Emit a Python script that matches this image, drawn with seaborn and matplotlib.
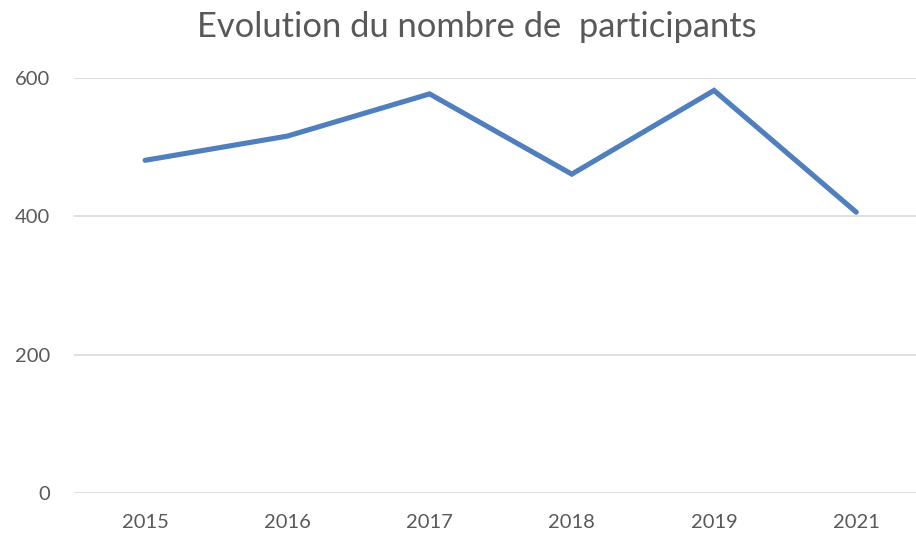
import matplotlib
matplotlib.use("Agg")
import matplotlib.pyplot as plt
import seaborn as sns
import pandas as pd

# values
years = ["2015", "2016", "2017", "2018", "2019", "2021"]
participants = [481, 516, 577, 461, 582, 406]
y_ticks = [0, 200, 400, 600]

df = pd.DataFrame({"Année": years, "Participants": participants})

sns.set_style("white")
plt.rcParams["font.family"] = ["Lato", "DejaVu Sans"]

W, H = 916, 534
fig = plt.figure(figsize=(W / 100, H / 100), dpi=100)
ax = fig.add_axes([74 / W, (H - 493) / H, (W - 74) / W, 415 / H])

sns.lineplot(data=df, x="Année", y="Participants", sort=False,
             color="#4f7fbd", linewidth=3.7, ax=ax)
ax.lines[0].set_solid_capstyle("round")
ax.lines[0].set_solid_joinstyle("miter")

ax.set_ylim(0, 600)
ax.set_xlim(-0.5, 5.42)
ax.set_yticks(y_ticks)
ax.grid(axis="y", color="#d9d9d9", linewidth=1.2)
ax.grid(axis="x", visible=False)
for s in ax.spines.values():
    s.set_visible(False)
ax.tick_params(axis="both", length=0, labelsize=14.5, colors="#595959")
ax.tick_params(axis="y", pad=17)
ax.tick_params(axis="x", pad=15)
ax.set_xlabel("")
ax.set_ylabel("")

fig.text(477 / W, 1 - 27 / H, "Evolution du nombre de  participants",
         ha="center", va="center", fontsize=24.8, color="#595959")

fig.savefig("out.png", dpi=100)
